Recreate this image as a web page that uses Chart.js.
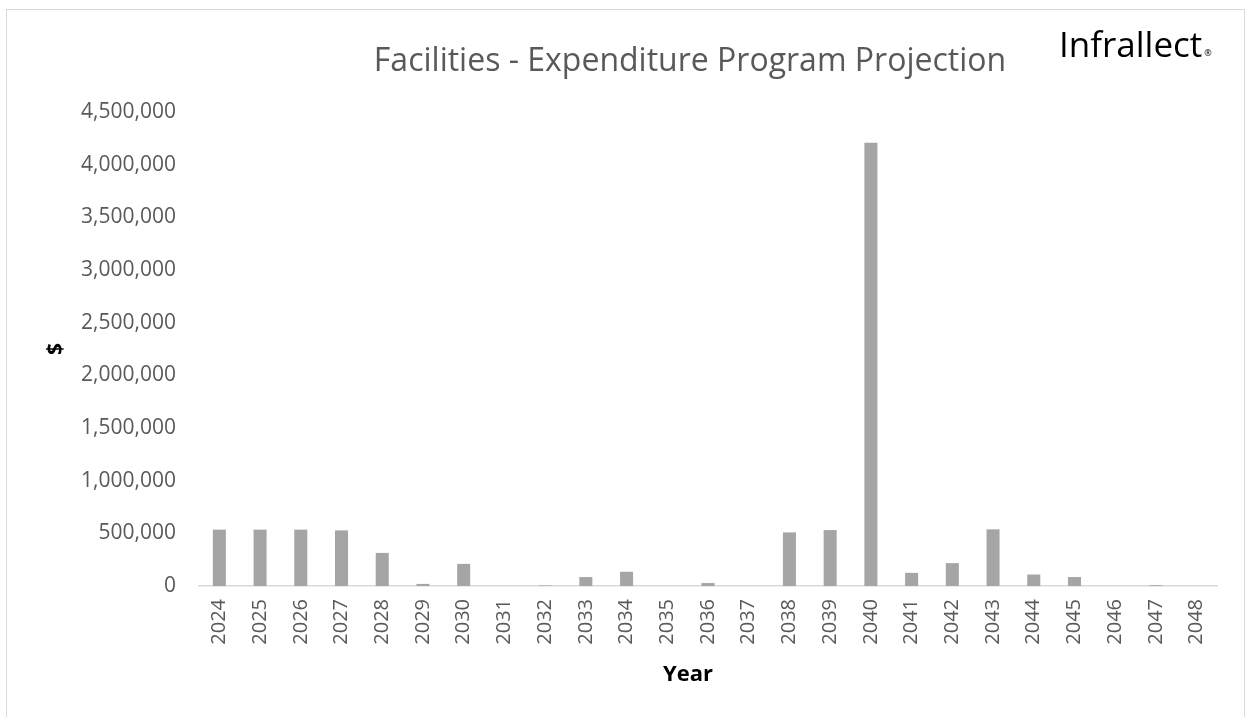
<!DOCTYPE html>
<html>
<head>
<meta charset="utf-8">
<script src="https://cdn.jsdelivr.net/npm/chart.js@4"></script>
<style>
html,body{margin:0;padding:0;background:#fff;}
#wrap{position:relative;width:1252px;height:717px;}
</style>
</head>
<body>
<div id="wrap"><canvas id="c" width="1252" height="717"></canvas></div>
<script>
const years = ['2024','2025','2026','2027','2028','2029','2030','2031','2032','2033','2034','2035','2036','2037','2038','2039','2040','2041','2042','2043','2044','2045','2046','2047','2048'];
const expenditure = [535000,535000,535000,528000,314000,20000,210000,0,5000,85000,135000,0,28000,0,509000,531000,4207000,125000,217000,538000,109000,85000,0,8000,0];
const yTicks = [0,500000,1000000,1500000,2000000,2500000,3000000,3500000,4000000,4500000];
const chartTitle = 'Facilities - Expenditure Program Projection';
const xTitle = 'Year';
const logoText = 'Infrallect';

const FONT = "'Open Sans', 'Liberation Sans', sans-serif";

const frame = {
  id:'frame',
  beforeDraw(chart){
    const ctx = chart.ctx;
    ctx.save();
    ctx.fillStyle = '#fff';
    ctx.fillRect(0,0,chart.width,chart.height);
    ctx.strokeStyle = '#d9d9d9';
    ctx.lineWidth = 1;
    ctx.strokeRect(6.5,9.5,1238,720);
    ctx.restore();
  },
  afterDraw(chart){
    const ctx = chart.ctx;
    ctx.save();
    ctx.fillStyle = '#595959';
    ctx.font = "32px " + FONT;
    ctx.textAlign = 'center';
    ctx.textBaseline = 'middle';
    ctx.fillText(chartTitle, 690, 62);
    ctx.fillStyle = '#000';
    ctx.font = "bold 22px " + FONT;
    ctx.fillText(xTitle, 688, 675);
    ctx.font = "35px " + FONT;
    ctx.textBaseline = 'alphabetic';
    ctx.textAlign = 'left';
    ctx.fillText(logoText, 1059, 57);
    const w = ctx.measureText(logoText).width;
    ctx.font = "9px " + FONT;
    ctx.fillText('®', 1059 + w + 2, 56);
    ctx.restore();
  }
};

new Chart(document.getElementById('c'), {
  type:'bar',
  data:{
    labels: years,
    datasets:[{
      data: expenditure,
      backgroundColor:'#a5a5a5',
      borderWidth:0,
      barPercentage:0.32,
      categoryPercentage:1
    }]
  },
  options:{
    responsive:false,
    animation:false,
    devicePixelRatio:1,
    layout:{padding:{top:112,left:6,right:35,bottom:0}},
    plugins:{
      legend:{display:false},
      tooltip:{enabled:false},
      title:{display:false}
    },
    scales:{
      x:{
        grid:{display:false,drawTicks:false},
        border:{display:true,color:'#d9d9d9',width:1.5},
        ticks:{
          color:'#595959',
          font:{family:FONT,size:20},
          minRotation:90,maxRotation:90,
          autoSkip:false,
          padding:13
        },
        afterFit(s){ s.height = 131; }
      },
      y:{
        min:0,max:4500000,
        grid:{display:false,drawTicks:false},
        border:{display:false},
        afterBuildTicks(s){ s.ticks = yTicks.map(v=>({value:v})); },
        ticks:{
          color:'#595959',
          font:{family:FONT,size:21},
          padding:23,
          callback:(v)=>Number(v).toLocaleString('en-US')
        },
        title:{
          display:true,text:'$',color:'#000',
          font:{family:FONT,size:21,weight:'bold'},
          padding:{top:37,bottom:0}
        },
        afterFit(s){ s.width = 193; }
      }
    }
  },
  plugins:[frame]
});
</script>
</body>
</html>
